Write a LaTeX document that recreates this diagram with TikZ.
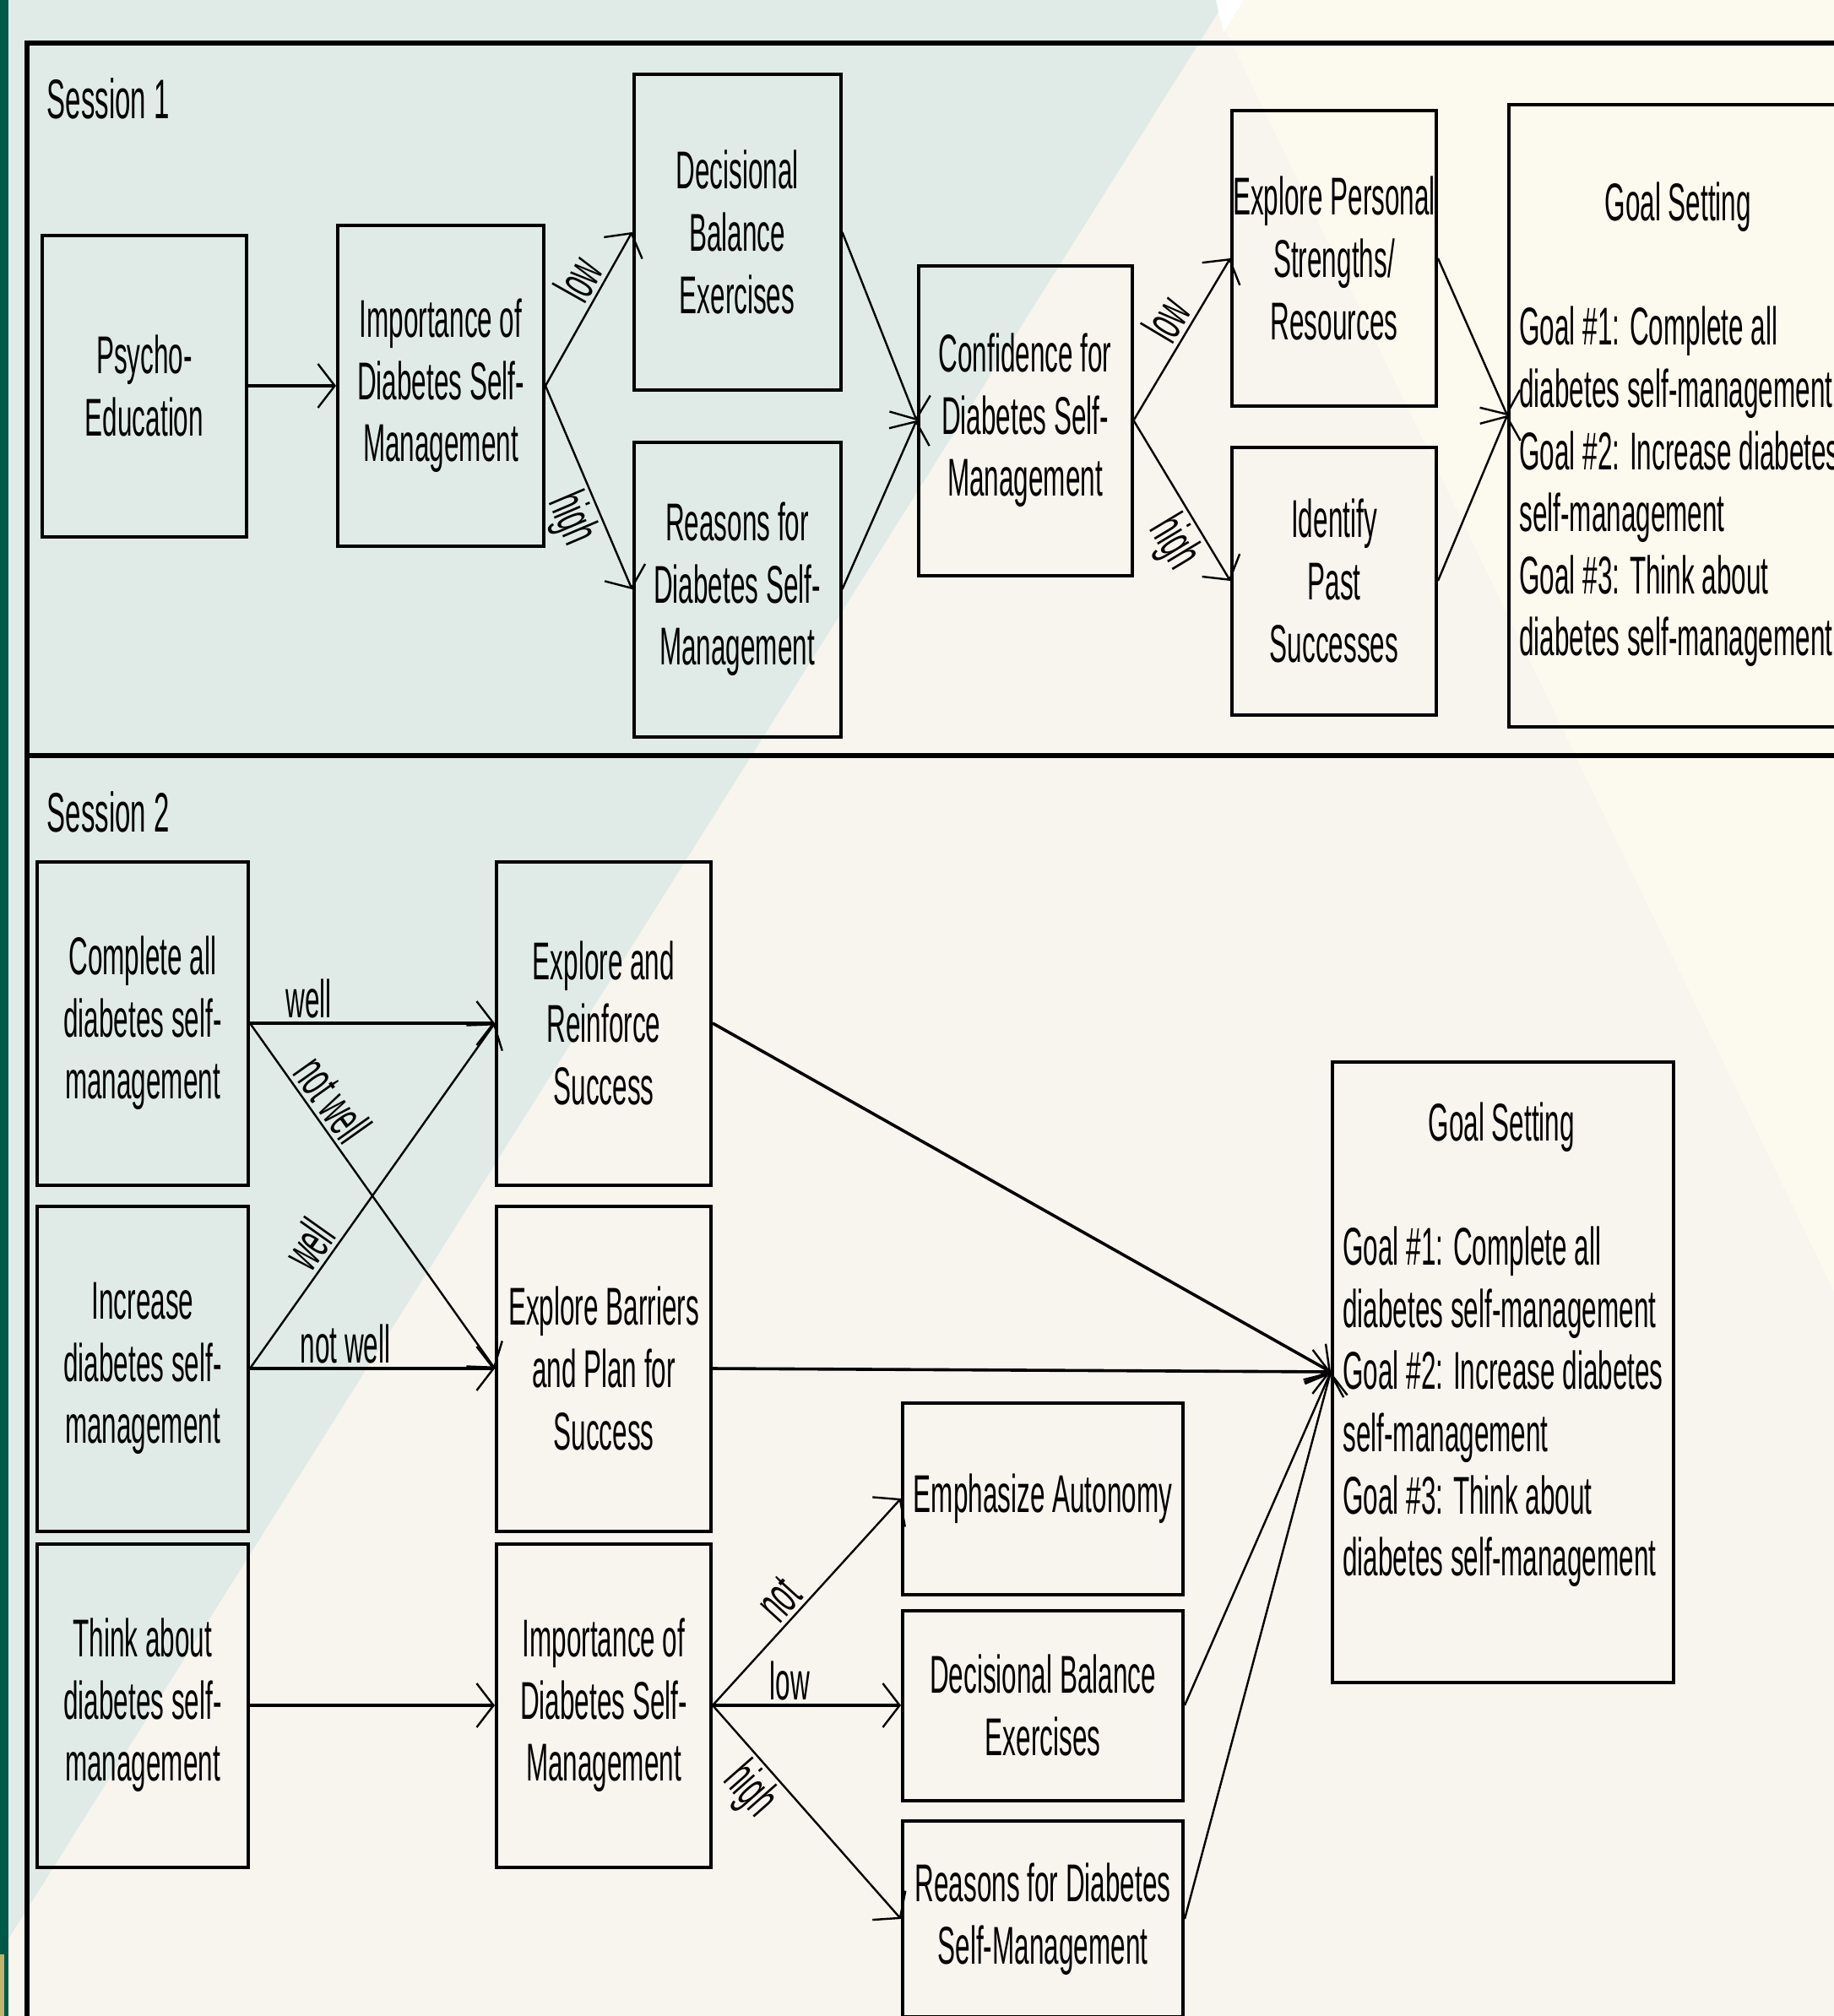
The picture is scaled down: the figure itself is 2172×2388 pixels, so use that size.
\documentclass[tikz,border=0pt]{standalone}
\usepackage{fontspec}
\setmainfont{Liberation Sans}[FakeStretch=0.5]
\usepackage{tikz}
\usetikzlibrary{arrows,arrows.meta,positioning}
\definecolor{bgcream}{HTML}{F7F5EE}
\definecolor{bglight}{HTML}{FCF9EE}
\definecolor{bgblue}{HTML}{E0EBE8}
\definecolor{stripgreen}{HTML}{005A48}
\definecolor{stripgold}{HTML}{C9B266}
\newcommand{\goaltitle}{\makebox[94pt]{Goal Setting}}
\tikzstyle{session} = [draw=black, line width=1.5pt]
\tikzstyle{sestitle} = [anchor=base west, inner sep=0pt, font=\fontsize{16.5}{19}\selectfont]
\tikzstyle{blk} = [draw=black, line width=1pt, rectangle, inner sep=0pt, align=center]
\tikzstyle{goalbox} = [draw=black, line width=1pt, rectangle, inner sep=0pt, minimum width=101pt, align=left]
\tikzstyle{flow} = [line width=0.6pt, -{Straight Barb[length=5pt,width=13pt,line width=0.6pt]}]
\tikzstyle{flowbold} = [flow, line width=1.2pt]
\tikzstyle{lbl} = [inner sep=1pt]
\begin{document}
\begin{tikzpicture}[x=0.25pt, y=-0.25pt, font=\fontsize{15.75}{18.4}\selectfont]
	\useasboundingbox (0,0) rectangle (2172,2388);
	\clip (0,0) rectangle (2172,2388);
	\fill[bgcream] (0,0) rectangle (2172,2388);
	\fill[bglight] (1434,0) -- (2172,0) -- (2172,1530) -- cycle;
	\fill[bgblue] (0,0) -- (1452,0) -- (8,2300) -- (0,2300) -- cycle;
	\fill[white] (1440,0) -- (1473,0) -- (1449,38) -- cycle;
	\fill[stripgreen] (0,0) rectangle (10,2388);
	\fill[stripgold] (0,2315) rectangle (5,2388);
	\draw[session] (32,51) rectangle (2200,895);
	\draw[session] (32,895) rectangle (2200,2420);
	\node[sestitle] (ses1) at (55,140) {Session 1};
	\node[sestitle] (ses2) at (55,985) {Session 2};

	\node[blk, minimum width=60.5pt, minimum height=89.25pt] (psy) at (171,457) {Psycho-\\Education};
	\node[blk, minimum width=61pt, minimum height=95pt] (imp1) at (522,457) {Importance of\\Diabetes Self-\\Management};
	\node[blk, minimum width=61.25pt, minimum height=93.5pt] (dec1) at (873,275) {Decisional\\Balance\\Exercises};
	\node[blk, minimum width=61.25pt, minimum height=87.25pt] (rea1) at (873,698) {Reasons for\\Diabetes Self-\\Management};
	\node[blk, minimum width=63.25pt, minimum height=91.75pt] (conf) at (1214,498) {Confidence for\\Diabetes Self-\\Management};
	\node[blk, minimum width=60.5pt, minimum height=87.5pt] (expl) at (1580,306) {Explore Personal\\Strengths/\\Resources};
	\node[blk, minimum width=60.5pt, minimum height=79.25pt] (past) at (1580,688) {Identify\\Past\\Successes};
	\node[goalbox, minimum height=184.25pt] (goal1) at (1989,492) {\\[-1.5pt]\goaltitle\\[18.4pt]
		Goal \#1: Complete all\\diabetes self-management\\Goal \#2: Increase diabetes\\self-management\\Goal \#3: Think about\\diabetes self-management};

	\draw[flowbold] (psy) -- (imp1);
	\draw[flow] (imp1.east) -- node[lbl, sloped, above, pos=.62] {low} (dec1.west);
	\draw[flow] (imp1.east) -- node[lbl, sloped, below, pos=.6] {high} (rea1.west);
	\draw[flow] (dec1.east) -- (conf.west);
	\draw[flow] (rea1.east) -- (conf.west);
	\draw[flow] (conf.east) -- node[lbl, sloped, above, pos=.55] {low} (expl.west);
	\draw[flow] (conf.east) -- node[lbl, sloped, below, pos=.67] {high} (past.west);
	\draw[flow] (expl.east) -- (goal1.west);
	\draw[flow] (past.east) -- (goal1.west);

	\node[blk, minimum width=62.5pt, minimum height=95.75pt] (cmpl) at (169,1212) {Complete all\\diabetes self-\\management};
	\node[blk, minimum width=62.5pt, minimum height=96.25pt] (incr) at (169,1621) {Increase\\diabetes self-\\management};
	\node[blk, minimum width=62.5pt, minimum height=95.75pt] (think) at (169,2020) {Think about\\diabetes self-\\management};
	\node[blk, minimum width=63.5pt, minimum height=95.75pt] (reinf) at (715,1212) {Explore and\\Reinforce\\Success};
	\node[blk, minimum width=63.5pt, minimum height=96.25pt] (barr) at (715,1621) {Explore Barriers\\and Plan for\\Success};
	\node[blk, minimum width=63.5pt, minimum height=95.75pt] (imp2) at (715,2020) {Importance of\\Diabetes Self-\\Management};
	\node[blk, minimum width=83pt, minimum height=56.75pt] (auto) at (1235,1775) {Emphasize Autonomy};
	\node[blk, minimum width=83pt, minimum height=56.25pt] (dec2) at (1235,2020) {Decisional Balance\\Exercises};
	\node[blk, minimum width=83pt, minimum height=58pt] (rea2) at (1235,2273) {Reasons for Diabetes\\Self-Management};
	\node[goalbox, minimum height=183.75pt] (goal2) at (1780,1625) {\goaltitle\\[18.4pt]
		Goal \#1: Complete all\\diabetes self-management\\Goal \#2: Increase diabetes\\self-management\\Goal \#3: Think about\\diabetes self-management\\[1pt]\mbox{}};

	\draw[flowbold] (cmpl.east) -- node[lbl, above, pos=.24] {well} (reinf.west);
	\draw[flow] (cmpl.east) -- node[lbl, sloped, above, pos=.26] {not well} (barr.west);
	\draw[flow] (incr.east) -- node[lbl, sloped, above, pos=.32] {well} (reinf.west);
	\draw[flowbold] (incr.east) -- node[lbl, above, pos=.39] {not well} (barr.west);
	\draw[flowbold] (think) -- (imp2);
	\draw[flow, line width=0.9pt] (reinf.east) -- (goal2.west);
	\draw[flow, line width=0.9pt] (barr.east) -- (goal2.west);
	\draw[flow] (imp2.east) -- node[lbl, sloped, above, pos=.44] {not} (auto.west);
	\draw[flowbold] (imp2.east) -- node[lbl, above, pos=.41] {low} (dec2.west);
	\draw[flow] (imp2.east) -- node[lbl, sloped, below, pos=.31] {high} (rea2.west);
	\draw[flow] (dec2.east) -- (goal2.west);
	\draw[flow] (rea2.east) -- (goal2.west);
\end{tikzpicture}
\end{document}
